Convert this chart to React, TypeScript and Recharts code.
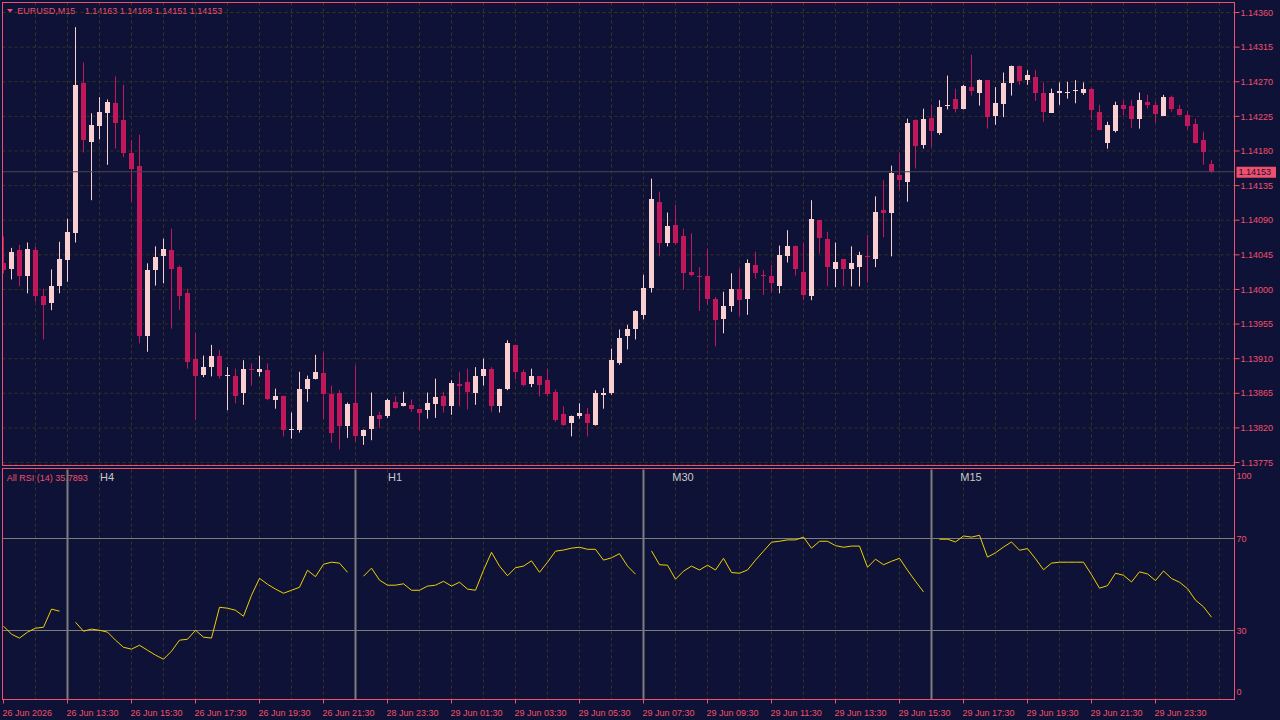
import React from 'react';
import { ComposedChart, Bar, Line, XAxis, YAxis, CartesianGrid, ReferenceLine } from 'recharts';

const BG = '#0e1236';
const PINK = '#f0506e';
const GRID = '#3a3422';
const BULL = '#f9cfcf';
const BEAR = '#c2185b';
const RSI_COLOR = '#f2cf00';
const SECTION_GRAY = '#7d7d7d';
const FONT = "'Liberation Sans', Arial, sans-serif";

// EURUSD M15 candles, oldest first
const opens = [
  1.14034, 1.14026, 1.14051, 1.14017, 1.14051, 1.13992, 1.13983, 1.14005, 1.14038, 1.14074,
  1.14269, 1.14192, 1.14212, 1.14230, 1.14243, 1.14220, 1.14177, 1.14160, 1.13939, 1.14025,
  1.14043, 1.14051, 1.14029, 1.13995, 1.13909, 1.13889, 1.13899, 1.13914, 1.13887, 1.13888,
  1.13865, 1.13897, 1.13893, 1.13895, 1.13856, 1.13861, 1.13817, 1.13817, 1.13870, 1.13884,
  1.13891, 1.13864, 1.13865, 1.13822, 1.13852, 1.13809, 1.13818, 1.13837, 1.13835, 1.13854,
  1.13849, 1.13850, 1.13844, 1.13843, 1.13851, 1.13861, 1.13848, 1.13877, 1.13880, 1.13866,
  1.13887, 1.13897, 1.13849, 1.13870, 1.13928, 1.13893, 1.13877, 1.13887, 1.13882, 1.13867,
  1.13838, 1.13826, 1.13835, 1.13838, 1.13824, 1.13863, 1.13865, 1.13904, 1.13939, 1.13948,
  1.13967, 1.14002, 1.14114, 1.14061, 1.14084, 1.14069, 1.14023, 1.14018, 1.14017, 1.13988,
  1.13962, 1.13978, 1.14001, 1.13987, 1.14032, 1.14019, 1.14017, 1.14005, 1.14043, 1.14057,
  1.14023, 1.13991, 1.14090, 1.14066, 1.14026, 1.14039, 1.14026, 1.14029, 1.14044, 1.14039,
  1.14103, 1.14100, 1.14149, 1.14140, 1.14220, 1.14188, 1.14223, 1.14203, 1.14239, 1.14247,
  1.14234, 1.14263, 1.14256, 1.14272, 1.14225, 1.14241, 1.14269, 1.14291, 1.14272, 1.14276,
  1.14255, 1.14230, 1.14256, 1.14255, 1.14258, 1.14255, 1.14260, 1.14231, 1.14191, 1.14206,
  1.14240, 1.14239, 1.14222, 1.14244, 1.14240, 1.14226, 1.14250, 1.14234, 1.14227, 1.14215,
  1.14194, 1.14163,
];
const highs = [
  1.14069, 1.14054, 1.14058, 1.14061, 1.14056, 1.14001, 1.14026, 1.14062, 1.14092, 1.14341,
  1.14295, 1.14229, 1.14250, 1.14247, 1.14277, 1.14266, 1.14194, 1.14201, 1.14034, 1.14056,
  1.14066, 1.14079, 1.14031, 1.14001, 1.13944, 1.13914, 1.13928, 1.13921, 1.13899, 1.13897,
  1.13908, 1.13904, 1.13914, 1.13904, 1.13871, 1.13862, 1.13840, 1.13893, 1.13888, 1.13915,
  1.13918, 1.13875, 1.13869, 1.13853, 1.13901, 1.13818, 1.13866, 1.13841, 1.13858, 1.13861,
  1.13867, 1.13857, 1.13844, 1.13866, 1.13884, 1.13867, 1.13882, 1.13893, 1.13897, 1.13899,
  1.13910, 1.13899, 1.13871, 1.13934, 1.13928, 1.13896, 1.13897, 1.13887, 1.13897, 1.13870,
  1.13848, 1.13836, 1.13852, 1.13846, 1.13869, 1.13872, 1.13923, 1.13948, 1.13954, 1.13973,
  1.14019, 1.14144, 1.14127, 1.14100, 1.14110, 1.14079, 1.14073, 1.14029, 1.14053, 1.13990,
  1.13997, 1.14021, 1.14027, 1.14039, 1.14049, 1.14025, 1.14032, 1.14057, 1.14077, 1.14057,
  1.14061, 1.14116, 1.14090, 1.14075, 1.14061, 1.14039, 1.14056, 1.14049, 1.14071, 1.14121,
  1.14142, 1.14161, 1.14178, 1.14222, 1.14221, 1.14235, 1.14240, 1.14246, 1.14278, 1.14261,
  1.14266, 1.14305, 1.14273, 1.14272, 1.14263, 1.14282, 1.14291, 1.14291, 1.14285, 1.14285,
  1.14269, 1.14261, 1.14269, 1.14270, 1.14272, 1.14269, 1.14262, 1.14240, 1.14218, 1.14244,
  1.14246, 1.14246, 1.14256, 1.14253, 1.14244, 1.14253, 1.14252, 1.14240, 1.14232, 1.14222,
  1.14205, 1.14168,
];
const lows = [
  1.14021, 1.14013, 1.14004, 1.13995, 1.13984, 1.13935, 1.13973, 1.13995, 1.14010, 1.14061,
  1.14178, 1.14116, 1.14195, 1.14162, 1.14183, 1.14172, 1.14114, 1.13930, 1.13919, 1.14005,
  1.14008, 1.13949, 1.13973, 1.13897, 1.13830, 1.13886, 1.13887, 1.13884, 1.13843, 1.13852,
  1.13850, 1.13875, 1.13887, 1.13856, 1.13845, 1.13809, 1.13806, 1.13814, 1.13854, 1.13883,
  1.13831, 1.13801, 1.13792, 1.13807, 1.13802, 1.13798, 1.13804, 1.13820, 1.13833, 1.13845,
  1.13848, 1.13841, 1.13817, 1.13832, 1.13833, 1.13840, 1.13837, 1.13848, 1.13844, 1.13850,
  1.13875, 1.13841, 1.13840, 1.13869, 1.13883, 1.13874, 1.13873, 1.13861, 1.13861, 1.13828,
  1.13823, 1.13809, 1.13832, 1.13809, 1.13823, 1.13845, 1.13863, 1.13902, 1.13922, 1.13935,
  1.13961, 1.13996, 1.14043, 1.14056, 1.14058, 1.14000, 1.14017, 1.13972, 1.13980, 1.13926,
  1.13943, 1.13971, 1.13965, 1.13967, 1.14014, 1.13993, 1.13996, 1.13995, 1.14035, 1.14018,
  1.13986, 1.13986, 1.14047, 1.14004, 1.14003, 1.14004, 1.14004, 1.14004, 1.14009, 1.14029,
  1.14068, 1.14043, 1.14129, 1.14114, 1.14157, 1.14183, 1.14185, 1.14201, 1.14234, 1.14230,
  1.14234, 1.14252, 1.14239, 1.14209, 1.14214, 1.14224, 1.14252, 1.14266, 1.14266, 1.14245,
  1.14218, 1.14230, 1.14240, 1.14248, 1.14242, 1.14253, 1.14220, 1.14207, 1.14183, 1.14204,
  1.14226, 1.14210, 1.14209, 1.14235, 1.14217, 1.14226, 1.14231, 1.14227, 1.14208, 1.14190,
  1.14162, 1.14151,
];
const closes = [
  1.14025, 1.14049, 1.14017, 1.14053, 1.13991, 1.13980, 1.14005, 1.14040, 1.14075, 1.14266,
  1.14194, 1.14214, 1.14231, 1.14244, 1.14217, 1.14177, 1.14157, 1.13939, 1.14025, 1.14042,
  1.14052, 1.14026, 1.13992, 1.13906, 1.13887, 1.13899, 1.13914, 1.13887, 1.13889, 1.13861,
  1.13897, 1.13895, 1.13896, 1.13857, 1.13862, 1.13817, 1.13819, 1.13870, 1.13884, 1.13893,
  1.13864, 1.13813, 1.13823, 1.13851, 1.13809, 1.13817, 1.13836, 1.13832, 1.13856, 1.13846,
  1.13852, 1.13845, 1.13840, 1.13852, 1.13860, 1.13848, 1.13879, 1.13875, 1.13867, 1.13888,
  1.13897, 1.13848, 1.13870, 1.13930, 1.13893, 1.13876, 1.13887, 1.13876, 1.13864, 1.13830,
  1.13824, 1.13836, 1.13840, 1.13826, 1.13865, 1.13865, 1.13908, 1.13937, 1.13948, 1.13972,
  1.14002, 1.14117, 1.14060, 1.14083, 1.14061, 1.14021, 1.14019, 1.14017, 1.13988, 1.13960,
  1.13979, 1.14001, 1.13986, 1.14034, 1.14021, 1.14017, 1.14009, 1.14045, 1.14056, 1.14026,
  1.13993, 1.14091, 1.14067, 1.14029, 1.14036, 1.14026, 1.14034, 1.14045, 1.14042, 1.14101,
  1.14099, 1.14151, 1.14142, 1.14217, 1.14187, 1.14222, 1.14206, 1.14237, 1.14240, 1.14235,
  1.14264, 1.14258, 1.14272, 1.14224, 1.14243, 1.14269, 1.14290, 1.14271, 1.14279, 1.14256,
  1.14231, 1.14255, 1.14258, 1.14257, 1.14259, 1.14261, 1.14233, 1.14207, 1.14214, 1.14240,
  1.14235, 1.14222, 1.14246, 1.14240, 1.14228, 1.14250, 1.14234, 1.14227, 1.14213, 1.14191,
  1.14179, 1.14153,
];

// RSI(14) blocks, one per timeframe section
const rsiLead = [31.9, 28.4, 26.7, 29.3, 31.0, 31.4, 39.3, 38.4];
const rsiH4 = [
  33.6, 29.7, 30.6, 30.1, 29.3, 25.8, 22.7, 21.9, 23.6, 21.4, 19.3, 17.5, 21.0, 25.8, 26.2, 30.1, 27.1, 26.7,
  40.1, 39.7, 38.8, 36.2, 45.3, 52.7, 50.1, 48.0, 46.2, 47.5, 48.8, 56.2, 53.4, 58.8, 59.7, 59.3, 55.3,
];
const rsiH1 = [
  53.6, 57.1, 51.9, 49.7, 49.7, 50.3, 47.5, 47.5, 49.3, 49.7, 51.4, 49.3, 51.0, 48.0, 47.5, 56.2, 64.0, 58.0,
  53.8, 57.3, 58.0, 60.3, 55.3, 59.7, 64.5, 65.0, 65.8, 66.2, 65.3, 65.3, 60.6, 61.6, 63.4, 58.0, 54.5,
];
const rsiM30 = [
  64.6, 58.6, 58.4, 52.3, 55.8, 58.0, 56.3, 58.4, 56.3, 61.4, 55.2, 54.9, 56.3, 60.6, 64.5, 68.4, 68.8, 69.4,
  69.4, 70.6, 65.8, 68.8, 68.8, 66.9, 66.2, 66.7, 66.7, 57.5, 61.0, 58.6, 60.1, 61.4, 56.2, 51.4, 46.8,
];
const rsiM15 = [
  69.7, 69.7, 68.5, 71.1, 70.6, 71.4, 61.9, 63.8, 66.3, 68.5, 64.9, 65.6, 61.2, 56.4, 59.3, 59.7, 59.7, 59.7,
  59.7, 54.3, 48.4, 49.5, 54.9, 54.0, 51.1, 55.5, 54.6, 51.7, 55.9, 52.6, 51.0, 48.2, 43.2, 40.3, 35.7893,
];
const sectionNames = ['H4', 'H1', 'M30', 'M15'];

const priceTicks = [
  1.13775, 1.1382, 1.13865, 1.1391, 1.13955, 1.14, 1.14045, 1.1409, 1.14135, 1.1418, 1.14225, 1.1427, 1.14315, 1.1436,
];
const rsiTicks = [0, 30, 70, 100];
const timeLabels = [
  '26 Jun 2026', '26 Jun 13:30', '26 Jun 15:30', '26 Jun 17:30', '26 Jun 19:30', '26 Jun 21:30',
  '28 Jun 23:30', '29 Jun 01:30', '29 Jun 03:30', '29 Jun 05:30', '29 Jun 07:30', '29 Jun 09:30',
  '29 Jun 11:30', '29 Jun 13:30', '29 Jun 15:30', '29 Jun 17:30', '29 Jun 19:30', '29 Jun 21:30',
  '29 Jun 23:30',
];

const candles = opens.map((open, i) => ({ i, open, high: highs[i], low: lows[i], close: closes[i] }));
const rsiSeries = [...rsiLead, null, ...rsiH4, null, ...rsiH1, null, ...rsiM30, null, ...rsiM15];
const rsiData = rsiSeries.map((rsi, i) => ({ i, rsi }));
const sectionStarts = rsiSeries.map((v, i) => (v === null ? i : -1)).filter((i) => i >= 0);
const timeIdx = timeLabels.map((_, n) => n * 8);
// vertical grid every 4 bars
const gridIdx = candles.filter((c) => c.i > 0 && c.i % 4 === 0).map((c) => c.i).concat([152]);
const xDomain = [-0.125, 153.875];
const last = candles[candles.length - 1];

const NoTick = () => null;

const Candle = (props: any) => {
  const { x, y, width, height, payload } = props;
  if (x == null || !payload) return null;
  const { open, close, high, low } = payload;
  const span = high - low;
  const k = span > 0 ? height / span : 0;
  const py = (v: number) => y + (high - v) * k;
  const cx = Math.round(x + width / 2 - 0.5) + 0.5;
  const color = close >= open ? BULL : BEAR;
  const top = Math.round(py(Math.max(open, close)));
  const bot = Math.round(py(Math.min(open, close)));
  return (
    <g>
      <line x1={cx} x2={cx} y1={y} y2={y + height} stroke={color} strokeWidth={1} />
      <rect x={cx - 2.5} y={top} width={5} height={Math.max(1, bot - top)} fill={color} />
    </g>
  );
};

const PriceTag = (props: any) => {
  const { viewBox, value } = props;
  if (!viewBox) return null;
  const x = viewBox.x + viewBox.width + 2;
  const y = viewBox.y;
  return (
    <g>
      <rect x={x} y={y - 5} width={39.5} height={11} fill={PINK} />
      <text x={x + 2} y={y} dy="0.36em" fill={BG} fontSize={9} fontFamily={FONT}>
        {value}
      </text>
    </g>
  );
};

const SectionLabel = (props: any) => {
  const { viewBox, text } = props;
  if (!viewBox) return null;
  return (
    <text x={viewBox.x + 39.5} y={viewBox.y + 11.5} textAnchor="middle" fill="#c8c8c8" fontSize={11} fontFamily={FONT}>
      {text}
    </text>
  );
};

const TimeTick = (props: any) => {
  const { x, y, payload } = props;
  const label = timeLabels[timeIdx.indexOf(payload.value)];
  return (
    <text x={x - 1} y={y + 10.5} fill={PINK} fontSize={9} fontFamily={FONT} textAnchor="start">
      {label}
    </text>
  );
};

const RsiTick = (props: any) => {
  const { x, y, payload } = props;
  const v = payload.value;
  const shift = v === 100 ? 6.5 : v === 0 ? -7.5 : 0;
  return (
    <text x={x} y={y + shift} dy="0.355em" fill={PINK} fontSize={9} fontFamily={FONT} textAnchor="start">
      {v}
    </text>
  );
};

const App = (): JSX.Element => {
  const header = [last.open, last.high, last.low, last.close].map((v) => v.toFixed(5)).join(' ');
  const rsiLabel = `All RSI (14) ${rsiM15[rsiM15.length - 1].toFixed(4)}`;
  return (
    <div style={{ position: 'absolute', left: 0, top: 0, width: 1280, height: 720, background: BG, overflow: 'hidden' }}>
      <svg width={1280} height={720} style={{ position: 'absolute', left: 0, top: 0 }}>
        <polygon points="7,9 13,9 10,12.5" fill={PINK} />
        <text x={17.3} y={14} fill={PINK} fontSize={9} fontFamily={FONT}>
          EURUSD,M15
        </text>
        <text x={84.7} y={14} fill={PINK} fontSize={9} fontFamily={FONT}>
          {header}
        </text>
        <text x={6.7} y={481} fill={PINK} fontSize={9} fontFamily={FONT}>
          {rsiLabel}
        </text>
      </svg>

      <div style={{ position: 'absolute', left: 0, top: 0 }}>
        <ComposedChart width={1280} height={467} data={candles} margin={{ top: 2.5, right: 0, bottom: 2, left: 2.5 }}>
          <CartesianGrid stroke={GRID} strokeDasharray="3 3" />
          <XAxis
            type="number"
            dataKey="i"
            domain={xDomain}
            ticks={gridIdx}
            interval={0}
            allowDataOverflow
            height={0}
            tick={NoTick}
            tickLine={false}
            axisLine={false}
          />
          <YAxis
            orientation="right"
            width={45.5}
            domain={[1.137718, 1.14373]}
            ticks={priceTicks}
            interval={0}
            allowDataOverflow
            axisLine={{ stroke: PINK }}
            tickLine={{ stroke: PINK }}
            tickSize={5}
            tickMargin={1}
            tick={{ fill: PINK, fontSize: 9, fontFamily: FONT }}
            tickFormatter={(v: number) => v.toFixed(5)}
          />
          <ReferenceLine y={last.close} stroke="#4a4550" label={<PriceTag value={last.close.toFixed(5)} />} />
          <Bar
            dataKey={(d: any) => [d.low, d.high]}
            barSize={5}
            shape={<Candle />}
            isAnimationActive={false}
          />
        </ComposedChart>
      </div>

      <div style={{ position: 'absolute', left: 0, top: 467 }}>
        <ComposedChart width={1280} height={253} data={rsiData} margin={{ top: 2.5, right: 0, bottom: 0, left: 2.5 }}>
          <CartesianGrid stroke={GRID} strokeDasharray="3 3" horizontal={false} xAxisId="grid" />
          <XAxis
            xAxisId="grid"
            orientation="top"
            type="number"
            dataKey="i"
            domain={xDomain}
            ticks={gridIdx}
            interval={0}
            allowDataOverflow
            height={0}
            tick={NoTick}
            tickLine={false}
            axisLine={false}
          />
          <XAxis
            xAxisId="time"
            type="number"
            dataKey="i"
            domain={xDomain}
            ticks={timeIdx}
            interval={0}
            allowDataOverflow
            height={20.5}
            tickSize={4}
            tickMargin={2}
            tickLine={{ stroke: PINK }}
            axisLine={{ stroke: PINK }}
            tick={<TimeTick />}
          />
          <YAxis
            orientation="right"
            width={45.5}
            domain={[0, 100]}
            ticks={rsiTicks}
            interval={0}
            tickSize={0}
            tickMargin={2}
            tickLine={false}
            axisLine={{ stroke: PINK }}
            tick={<RsiTick />}
          />
          <ReferenceLine xAxisId="time" y={0} stroke={GRID} strokeDasharray="3 3" />
          <ReferenceLine xAxisId="time" y={70} stroke={SECTION_GRAY} />
          <ReferenceLine xAxisId="time" y={30} stroke={SECTION_GRAY} />
          {sectionStarts.map((at, n) => (
            <ReferenceLine
              key={at}
              xAxisId="time"
              x={at}
              stroke={SECTION_GRAY}
              strokeWidth={2}
              label={<SectionLabel text={sectionNames[n]} />}
            />
          ))}
          <Line
            xAxisId="time"
            type="linear"
            dataKey="rsi"
            stroke={RSI_COLOR}
            strokeWidth={1}
            dot={false}
            connectNulls={false}
            isAnimationActive={false}
          />
        </ComposedChart>
      </div>

      <svg width={1280} height={720} style={{ position: 'absolute', left: 0, top: 0, pointerEvents: 'none' }}>
        <rect x={2.5} y={2.5} width={1232} height={463} fill="none" stroke={PINK} />
        <rect x={2.5} y={468.5} width={1232} height={231} fill="none" stroke={PINK} />
      </svg>
    </div>
  );
};

export default App;
